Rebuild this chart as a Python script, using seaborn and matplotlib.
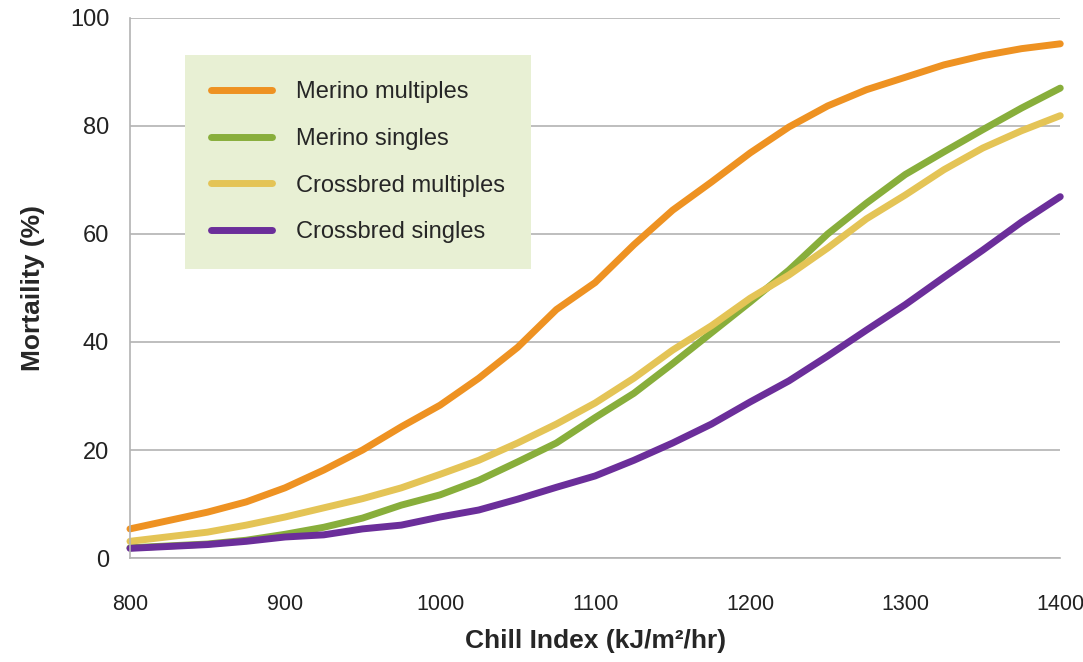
import numpy as np
import pandas as pd
import matplotlib
matplotlib.use("Agg")
import matplotlib.pyplot as plt
import seaborn as sns
from matplotlib import font_manager

chill = [800, 850, 875, 900, 925, 950, 975, 1000, 1025, 1050, 1075, 1100, 1125,
         1150, 1175, 1200, 1225, 1250, 1275, 1300, 1325, 1350, 1375, 1400]
merino_multiples = [5.4, 8.5, 10.4, 13.0, 16.3, 20.0, 24.3, 28.3, 33.3, 39.0, 46.0, 51.0,
                    58.0, 64.4, 69.6, 75.0, 79.8, 83.7, 86.7, 89.0, 91.3, 93.0, 94.3, 95.2]
merino_singles = [1.9, 2.6, 3.3, 4.4, 5.7, 7.4, 9.8, 11.7, 14.4, 17.8, 21.3, 26.0,
                  30.5, 36.0, 41.7, 47.4, 53.3, 60.0, 65.7, 71.0, 75.2, 79.3, 83.3, 87.0]
crossbred_multiples = [3.1, 4.8, 6.1, 7.6, 9.3, 11.0, 13.0, 15.5, 18.1, 21.3, 24.8, 28.7,
                       33.3, 38.5, 43.0, 48.1, 52.4, 57.4, 62.8, 67.2, 71.9, 75.9, 79.1, 81.9]
crossbred_singles = [1.8, 2.5, 3.1, 3.9, 4.3, 5.4, 6.1, 7.6, 8.9, 10.9, 13.1, 15.2,
                     18.1, 21.3, 24.8, 28.9, 32.8, 37.4, 42.2, 46.9, 52.0, 57.0, 62.2, 66.9]

series = ["Merino multiples", "Merino singles", "Crossbred multiples", "Crossbred singles"]
colors = ["#EE9222", "#88AE3B", "#E4C456", "#6B2E9A"]

df = pd.concat([
    pd.DataFrame({"chill": chill, "mort": vals, "group": name})
    for name, vals in zip(series, [merino_multiples, merino_singles,
                                   crossbred_multiples, crossbred_singles])
])

sns.set_style("white")
plt.rcParams["font.family"] = ["Liberation Sans", "DejaVu Sans"]

# condensed face for x tick labels if available
names = {f.name for f in font_manager.fontManager.ttflist}
xtick_family = "Liberation Sans Narrow" if "Liberation Sans Narrow" in names else "Liberation Sans"
xtick_size = 17 if xtick_family == "Liberation Sans Narrow" else 15.5

fig = plt.figure(figsize=(10.83, 6.62), dpi=100)
ax = fig.add_axes([0.12, 0.157, 0.859, 0.816])

ax.set_axisbelow(True)
ax.yaxis.grid(True, color="#b3b3b3", linewidth=1.2)
ax.xaxis.grid(False)

sns.lineplot(data=df, x="chill", y="mort", hue="group", hue_order=series,
             palette=colors, linewidth=5, ax=ax, legend=False,
             solid_capstyle="round")

ax.set_xlim(800, 1400)
ax.set_ylim(0, 100)
ax.set_xticks(range(800, 1401, 100))
ax.set_yticks(range(0, 101, 20))

for s in ["top", "right"]:
    ax.spines[s].set_visible(False)
for s in ["left", "bottom"]:
    ax.spines[s].set_color("#b3b3b3")
    ax.spines[s].set_linewidth(1.2)
ax.tick_params(axis="both", which="major", length=8, width=1.2, color="#b3b3b3",
               labelsize=17, labelcolor="#222222", direction="out")
ax.tick_params(axis="x", pad=18)
ax.tick_params(axis="y", pad=7)
for lab in ax.get_xticklabels():
    lab.set_family(xtick_family)
    lab.set_fontsize(xtick_size)
for line in ax.lines:
    line.set_clip_on(False)

ax.set_xlabel("Chill Index (kJ/m²/hr)", fontsize=19, fontweight="bold", labelpad=10)
ax.set_ylabel("Mortaility (%)", fontsize=19, fontweight="bold", labelpad=18)

handles = [plt.Line2D([], [], color=c, linewidth=5, solid_capstyle="round") for c in colors]
ax.legend(handles, series, loc="upper left", bbox_to_anchor=(0.059, 0.931),
          fontsize=17, frameon=True, fancybox=False, framealpha=1,
          facecolor="#E8F0D4", edgecolor="none", labelspacing=1.05,
          handlelength=2.6, handletextpad=1.0, borderpad=1.1, borderaxespad=0)

fig.savefig("out.png", dpi=100)
